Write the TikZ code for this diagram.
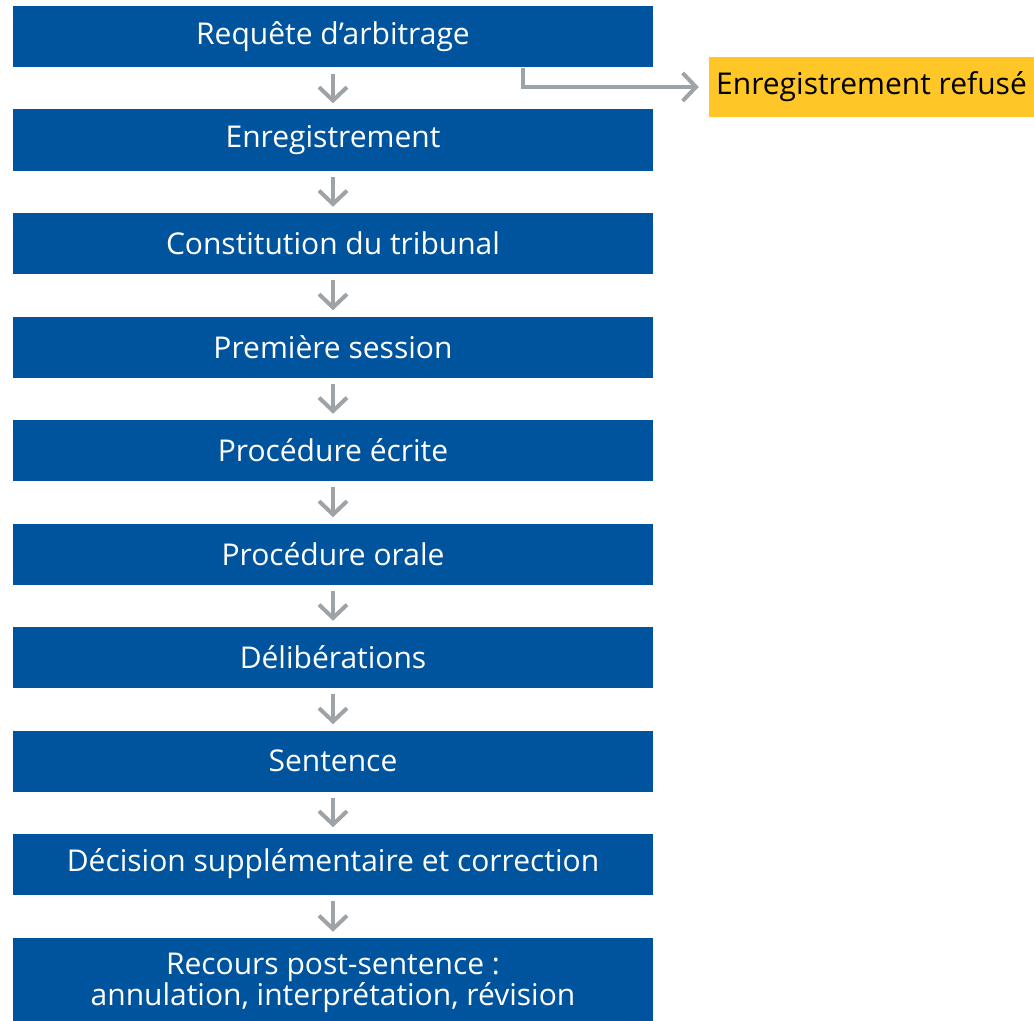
\documentclass[tikz,border=0pt]{standalone}
\usepackage{fontspec}
\setmainfont{Open Sans}
\usetikzlibrary{arrows.meta}
\definecolor{boxblue}{HTML}{00549E}
\definecolor{refusorange}{HTML}{FFC627}
\definecolor{flowgrey}{HTML}{9DA3A7}

\begin{document}
\begin{tikzpicture}[x=0.75pt,y=-0.75pt,
  stage/.style={fill=boxblue,text=white,inner sep=0pt,minimum width=480pt,minimum height=45.75pt,font=\fontsize{22.5}{22}\selectfont},
  refus/.style={fill=refusorange,text=black,inner sep=0pt,minimum width=243.75pt,minimum height=45pt,font=\fontsize{22.5}{22}\selectfont},
  flow/.style={draw=flowgrey,line width=3pt,-{Straight Barb[length=10pt,width=21pt]}}]
\useasboundingbox (0,0) rectangle (1034,1020);
\node[stage] (requete) at (333,37) {Requête d’arbitrage};
\node[stage] (enreg) at (333,140) {Enregistrement};
\node[stage] (tribunal) at (333,243.5) {Constitution du tribunal};
\node[stage] (session) at (333,347) {Première session};
\node[stage] (ecrite) at (333,450.5) {Procédure écrite};
\node[stage] (orale) at (333,554) {Procédure orale};
\node[stage] (delib) at (333,657.5) {Délibérations};
\node[stage] (sentence) at (333,761) {Sentence};
\node[stage] (correction) at (333,864) {Décision supplémentaire et correction};
\node[stage,minimum height=67.5pt,align=center,font=\fontsize{22.5}{21}\selectfont] (recours) at (333,983) {Recours post-sentence :\\annulation, interprétation, révision};
\node[refus] (refuse) at (871.5,87) {Enregistrement refusé};
% fleches
\foreach \a/\b in {requete/enreg,enreg/tribunal,tribunal/session,session/ecrite,ecrite/orale,orale/delib,delib/sentence,sentence/correction,correction/recours}
  \draw[flow,shorten <=4.5pt,shorten >=4.5pt] (\a) -- (\b);
\draw[flow,shorten >=7.5pt] ([xshift=142.5pt]requete.south) |- (refuse.west);
\end{tikzpicture}
\end{document}
